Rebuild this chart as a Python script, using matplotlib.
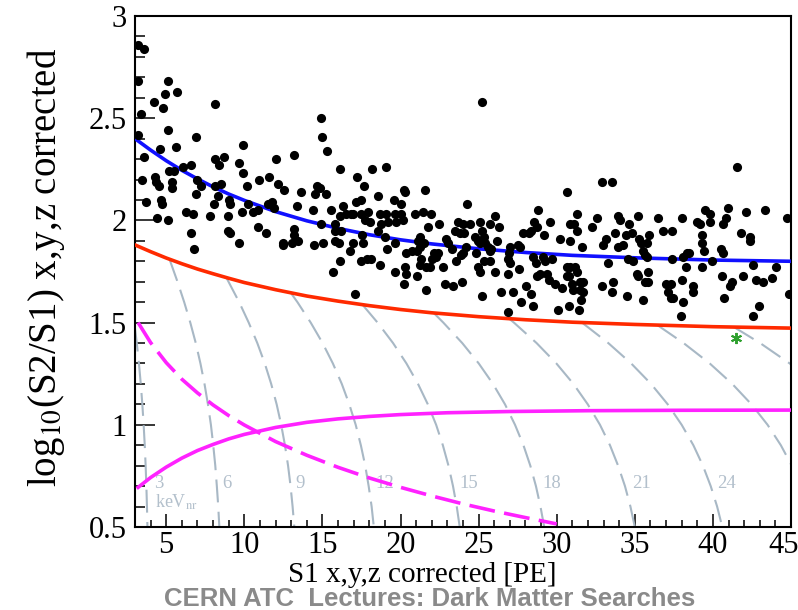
import matplotlib
matplotlib.use("Agg")
import matplotlib.pyplot as plt
from matplotlib.ticker import MultipleLocator, FuncFormatter
from matplotlib.transforms import ScaledTranslation

plt.rcParams['font.family'] = ['Liberation Serif', 'DejaVu Serif']
plt.rcParams['mathtext.fontset'] = 'stix'

# ---------------------------------------------------------------- events
event_s1 = [
    3.17, 3.55, 3.17, 5.10, 4.90, 5.70, 4.20, 4.80, 8.10, 25.20,
    3.36, 14.90, 3.22, 5.10, 6.90, 4.60, 5.60, 9.90, 15.00, 15.30,
    3.60, 8.10, 8.70, 12.00, 13.20,
    9.65, 8.41, 6.59, 9.92, 16.12, 3.45, 4.28, 4.37, 4.54, 5.20,
    5.48, 6.06, 6.95, 7.23, 5.39, 5.39, 6.91, 8.11, 8.51, 8.30,
    10.16, 10.93, 11.61, 12.17, 12.51, 13.60, 14.67, 14.84, 14.54, 15.24,
    3.71, 4.67, 4.71, 8.04, 9.03, 9.07, 10.22, 11.50, 11.78, 11.93,
    13.34, 14.39, 15.56, 16.31, 4.41, 5.09, 6.27, 6.70, 7.83, 8.98,
    9.86, 10.54, 10.86, 16.10, 16.53, 16.85,
    6.59, 6.76, 8.94, 9.11, 9.65, 10.86, 11.38, 12.47, 12.49, 13.21,
    13.21, 13.08, 13.43, 14.45, 15.03, 14.88, 15.78, 15.82, 16.20, 15.78,
    16.03, 16.12, 15.65, 17.10,
    16.95, 17.49, 17.91, 17.70, 18.02, 18.66, 18.77, 19.05, 19.20, 19.62,
    19.73, 20.05, 20.16, 20.91, 21.44, 21.97,
    18.56, 17.55, 17.59, 16.95, 16.78, 18.98, 19.62, 19.13, 17.49, 17.85,
    18.13, 18.66, 19.62, 20.27, 20.33, 20.22, 21.06, 20.37, 20.76, 21.06,
    21.23, 21.48, 21.27, 21.12, 21.33, 21.27, 21.65, 21.87, 21.61, 22.12,
    22.30, 22.40, 22.04, 21.76, 22.47, 22.72, 22.83, 23.36, 22.94, 23.04,
    23.32, 23.58, 23.68, 24.00, 24.47, 23.47, 23.79, 24.05, 24.00, 23.90,
    23.96, 24.22, 24.75, 24.97, 25.07, 24.86, 25.07, 25.24, 25.33, 24.97,
    25.07, 25.24, 25.39, 25.61, 25.71, 25.82, 25.33, 25.76, 26.03, 25.71,
    26.03, 26.31, 26.18, 26.46, 26.85, 26.99, 26.95, 26.89, 26.99, 26.89,
    27.17, 27.53, 27.64, 27.59, 27.74, 27.85, 28.02, 28.24, 28.38, 28.38,
    28.45, 28.56, 28.71, 28.49, 28.66, 28.71, 28.92, 29.13, 29.24, 29.67,
    29.35, 29.60, 29.18, 29.52, 29.88, 30.09, 30.20, 30.37,
    19.05, 18.19, 17.21, 17.64, 18.56, 20.20, 20.27, 21.57, 17.17, 17.49,
    19.56, 20.05, 24.26, 30.63, 28.81,
    32.87, 33.55, 41.57, 31.31, 32.59, 33.94, 35.22, 36.50, 38.00, 39.50,
    39.80, 40.95, 40.84, 42.12, 43.34, 44.77,
    34.05, 39.82, 38.96, 39.17, 40.67, 30.88, 31.10, 31.27, 32.23, 30.88,
    31.59, 32.94, 33.15, 33.73, 34.43, 34.79, 34.65, 33.94, 34.22, 35.29,
    35.37, 35.93, 35.76, 35.50, 35.65, 35.80, 36.82, 37.36, 33.28, 34.58,
    34.86, 37.36, 38.11, 38.32, 38.49, 38.28, 39.28, 39.28, 39.43, 39.92,
    39.28, 40.50, 40.63, 41.78, 42.38, 42.38, 42.55, 44.05, 30.63, 30.88,
    31.16, 31.27, 30.63, 30.80, 31.01, 31.48, 31.70, 31.06, 31.48, 31.70,
    31.53, 30.80, 31.44, 32.87, 33.62, 33.51, 34.47, 35.12, 35.22, 35.86,
    35.65, 35.86, 35.50, 36.99, 37.29, 37.14, 37.29, 37.42, 38.00, 38.06,
    37.94, 38.70, 38.70, 40.56, 41.10, 41.20, 40.71, 41.95, 42.76, 43.19,
    43.77, 42.98, 42.55, 44.90,
]
event_log_ratio = [
    2.86, 2.84, 2.68, 2.68, 2.62, 2.63, 2.58, 2.55, 2.57, 2.58,
    2.52, 2.50, 2.42, 2.44, 2.41, 2.35, 2.36, 2.37, 2.41, 2.34,
    2.31, 2.30, 2.31, 2.30, 2.32,
    2.28, 2.27, 2.27, 2.23, 2.25, 2.20, 2.21, 2.19, 2.17, 2.24,
    2.24, 2.26, 2.20, 2.17, 2.19, 2.16, 2.13, 2.17, 2.18, 2.12,
    2.17, 2.20, 2.21, 2.18, 2.15, 2.14, 2.17, 2.16, 2.13, 2.13,
    2.09, 2.10, 2.08, 2.08, 2.10, 2.08, 2.08, 2.08, 2.09, 2.06,
    2.07, 2.05, 2.05, 2.07, 2.01, 2.00, 2.04, 2.03, 2.02, 2.02,
    2.04, 2.04, 2.05, 2.02, 2.03, 2.03,
    1.94, 1.86, 1.95, 1.94, 1.89, 1.97, 1.94, 1.89, 1.88, 1.96,
    1.93, 1.89, 1.90, 1.88, 1.89, 1.98, 1.98, 1.95, 1.95, 1.90,
    1.89, 1.80, 1.75, 1.64,
    2.03, 2.03, 2.04, 2.00, 1.99, 2.03, 1.98, 2.03, 1.99, 2.03,
    1.99, 2.03, 2.00, 2.03, 2.04, 2.03,
    1.95, 1.93, 1.89, 1.89, 1.85, 1.92, 1.89, 1.86, 1.80, 1.81,
    1.81, 1.78, 1.75, 1.77, 1.74, 1.69, 1.73, 1.84, 1.85, 1.85,
    1.87, 1.89, 1.92, 1.90, 1.81, 1.78, 1.77, 1.77, 1.66, 1.84,
    1.82, 1.84, 1.81, 1.97, 1.98, 1.77, 1.69, 1.68, 1.91, 1.89,
    1.86, 1.80, 1.99, 1.98, 1.98, 1.95, 1.94, 1.94, 1.84, 1.83,
    1.70, 1.87, 1.92, 1.90, 1.89, 1.84, 1.99, 1.95, 1.92, 1.77,
    1.75, 1.63, 1.89, 1.87, 1.85, 1.86, 1.80, 1.80, 1.75, 1.98,
    2.02, 1.97, 1.90, 1.65, 1.55, 1.87, 1.84, 1.81, 1.79, 1.74,
    1.65, 1.88, 1.87, 1.76, 1.60, 1.94, 1.68, 1.94, 1.95, 1.64,
    1.58, 1.99, 1.97, 1.82, 1.79, 1.73, 1.74, 1.82, 1.80, 1.81,
    1.74, 1.99, 1.93, 1.71, 1.69, 1.56, 1.91, 1.67,
    2.26, 2.25, 2.21, 2.17, 2.12, 2.15, 2.14, 2.15, 2.09, 2.10,
    2.10, 2.08, 2.08, 2.14, 2.05,
    2.19, 2.19, 2.26, 2.03, 2.01, 2.02, 2.02, 2.01, 2.01, 2.05,
    2.03, 2.06, 2.01, 2.04, 2.05, 2.01,
    2.00, 1.99, 1.99, 1.98, 1.98, 1.98, 1.98, 1.95, 1.97, 1.90,
    1.87, 1.88, 1.91, 1.94, 1.93, 1.94, 1.98, 1.87, 1.88, 1.91,
    1.89, 1.93, 1.89, 1.85, 1.83, 1.82, 1.95, 1.95, 1.79, 1.81,
    1.80, 1.81, 1.82, 1.84, 1.84, 1.77, 1.93, 1.89, 1.85, 1.80,
    1.77, 1.86, 1.84, 1.94, 1.92, 1.90, 1.78, 1.77, 1.77, 1.77,
    1.77, 1.75, 1.73, 1.73, 1.69, 1.70, 1.70, 1.66, 1.66, 1.65,
    1.61, 1.58, 1.56, 1.68, 1.70, 1.65, 1.63, 1.74, 1.73, 1.75,
    1.70, 1.70, 1.61, 1.69, 1.69, 1.65, 1.62, 1.62, 1.71, 1.60,
    1.53, 1.68, 1.65, 1.73, 1.68, 1.70, 1.62, 1.73, 1.71, 1.70,
    1.72, 1.58, 1.53, 1.64,
]

# single candidate event
candidate_s1 = [41.5]
candidate_log_ratio = [1.425]

# ------------------------------------------------------- band centroids
band_s1 = [3, 4, 5, 6, 7, 8, 9, 10, 12, 14, 16, 18, 20, 22, 25, 28, 31, 35, 40, 45]
er_band_mean = [2.400, 2.344, 2.292, 2.245, 2.203, 2.164, 2.129, 2.098, 2.043, 1.998,
                1.961, 1.930, 1.905, 1.885, 1.861, 1.843, 1.829, 1.817, 1.806, 1.800]
nr_band_mean = [1.880, 1.847, 1.816, 1.788, 1.762, 1.739, 1.717, 1.696, 1.661, 1.630,
                1.605, 1.583, 1.564, 1.548, 1.529, 1.514, 1.502, 1.491, 1.480, 1.473]

# ------------------------------------------------------------ thresholds
s2_cut_s1 = [3.2, 4, 5, 6, 7, 8, 9, 10, 12, 14, 16, 18, 20, 23, 27, 32, 38, 45]
s2_cut_log_ratio = [0.694, 0.742, 0.793, 0.837, 0.874, 0.904, 0.931, 0.953, 0.987, 1.012,
                    1.029, 1.041, 1.050, 1.059, 1.065, 1.069, 1.071, 1.072]
s2_min_s1 = [3.2, 4, 5, 6, 7, 8, 9, 10, 12, 14, 16, 18, 20, 22, 24, 26, 28, 30]
s2_min_log_ratio = [1.500, 1.402, 1.304, 1.223, 1.156, 1.097, 1.045, 0.999, 0.918, 0.851,
                    0.792, 0.740, 0.694, 0.652, 0.613, 0.578, 0.546, 0.515]

# ------------------------------------------- constant-energy contours (keVnr)
contour_kev = [3, 6, 9, 12, 15, 18, 21, 24, 27, 30]
contour_s1 = [
    [3.0, 3.114, 3.252, 3.370, 3.470, 3.554, 3.624, 3.681, 3.728, 3.766, 3.796],
    [5.21, 5.72, 6.15, 6.54, 6.89, 7.19, 7.45, 7.67, 7.86, 8.01, 8.14, 8.24, 8.33, 8.40],
    [8.85, 9.67, 10.28, 10.83, 11.31, 11.72, 12.07, 12.36, 12.60, 12.80, 12.96, 13.09, 13.20],
    [12.98, 13.40, 14.25, 15.01, 15.67, 16.24, 16.72, 17.13, 17.46, 17.74, 17.96, 18.15, 18.29],
    [17.56, 18.53, 19.52, 20.38, 21.12, 21.75, 22.28, 22.71, 23.07, 23.36, 23.60, 23.79],
    [22.14, 22.74, 23.95, 25.01, 25.92, 26.69, 27.33, 27.87, 28.31, 28.67, 28.96, 29.20],
    [26.96, 27.26, 28.71, 29.98, 31.07, 31.99, 32.77, 33.41, 33.93, 34.37, 34.72, 35.00],
    [31.62, 33.30, 34.77, 36.04, 37.11, 38.00, 38.75, 39.36, 39.86, 40.27, 40.60],
    [36.46, 38.12, 39.80, 41.24, 42.47, 43.50, 44.35, 45.05, 45.63],
    [41.35, 43.02, 44.92, 46.55],
]
contour_log_ratio = [
    [1.47, 1.4, 1.3, 1.2, 1.1, 1.0, 0.9, 0.8, 0.7, 0.6, 0.5],
    [1.81, 1.7, 1.6, 1.5, 1.4, 1.3, 1.2, 1.1, 1.0, 0.9, 0.8, 0.7, 0.6, 0.5],
    [1.72, 1.6, 1.5, 1.4, 1.3, 1.2, 1.1, 1.0, 0.9, 0.8, 0.7, 0.6, 0.5],
    [1.645, 1.6, 1.5, 1.4, 1.3, 1.2, 1.1, 1.0, 0.9, 0.8, 0.7, 0.6, 0.5],
    [1.588, 1.5, 1.4, 1.3, 1.2, 1.1, 1.0, 0.9, 0.8, 0.7, 0.6, 0.5],
    [1.546, 1.5, 1.4, 1.3, 1.2, 1.1, 1.0, 0.9, 0.8, 0.7, 0.6, 0.5],
    [1.519, 1.5, 1.4, 1.3, 1.2, 1.1, 1.0, 0.9, 0.8, 0.7, 0.6, 0.5],
    [1.50, 1.4, 1.3, 1.2, 1.1, 1.0, 0.9, 0.8, 0.7, 0.6, 0.5],
    [1.487, 1.4, 1.3, 1.2, 1.1, 1.0, 0.9, 0.8, 0.7],
    [1.478, 1.4, 1.3, 1.2],
]
contour_label_s1 = [4.5, 8.9, 13.6, 19.0, 24.4, 29.7, 35.4, 40.9]
contour_label_text = ['3', '6', '9', '12', '15', '18', '21', '24']
contour_label_y = 0.715

# ---------------------------------------------------------------- figure
fig = plt.figure(figsize=(7.98, 6.10), dpi=100)
ax = fig.add_axes([135 / 798, 83 / 610, 656 / 798, 511 / 610])

grey = '#a8b8c5'
label_grey = '#b3c0cc'
for xs, ys in zip(contour_s1, contour_log_ratio):
    ax.plot(xs, ys, color=grey, lw=1.5, dashes=(11, 4.5), zorder=2)

for sx, txt in zip(contour_label_s1, contour_label_text):
    ax.text(sx, contour_label_y, txt, color=label_grey, fontsize=13.5,
            ha='center', va='center', zorder=2)
ax.text(4.3, 0.62, r'keV$_{\rm nr}$', color=label_grey, fontsize=13,
        ha='left', va='center', zorder=2)

ax.plot(band_s1, er_band_mean, color='#1010ff', lw=2.6, zorder=3)
ax.plot(band_s1, nr_band_mean, color='#ff2a00', lw=2.6, zorder=3)

ax.plot(s2_cut_s1, s2_cut_log_ratio, color='#ff22ff', lw=2.6, zorder=4)
ax.plot(s2_min_s1, s2_min_log_ratio, color='#ff22ff', lw=2.6,
        dashes=(7.2, 2.6), zorder=4)

ax.plot(event_s1, event_log_ratio, ls='none', marker='o', ms=6.6,
        mfc='black', mec='black', mew=0, zorder=5)
ax.plot(candidate_s1, candidate_log_ratio, ls='none', marker=(6, 2, 0),
        ms=8, mec='#2ea02e', mew=1.4, zorder=6)

ax.set_xlim(3, 45)
ax.set_ylim(0.5, 3)

ax.xaxis.set_major_locator(MultipleLocator(5))
ax.xaxis.set_minor_locator(MultipleLocator(1))
ax.yaxis.set_major_locator(MultipleLocator(0.5))
ax.yaxis.set_minor_locator(MultipleLocator(0.1))
ax.yaxis.set_major_formatter(FuncFormatter(lambda v, p: '%g' % v))
ax.xaxis.set_major_formatter(FuncFormatter(lambda v, p: '%g' % v))

ax.tick_params(axis='both', which='both', direction='in', top=False,
               right=False, width=1.1, color='black', labelsize=22)
ax.tick_params(axis='y', which='major', length=14.4, pad=6)
ax.tick_params(axis='y', which='minor', length=7.2)
ax.tick_params(axis='x', which='major', length=9.4, pad=3)
ax.tick_params(axis='x', which='minor', length=4.7)
for sp in ax.spines.values():
    sp.set_linewidth(1.5)

fig.text(46 / 798, 1 - 267 / 610, r'log$_{10}$(S2/S1) x,y,z corrected',
         rotation=90, ha='center', va='center', fontsize=28)
fig.text(422 / 798, 1 - 575 / 610, 'S1 x,y,z corrected [PE]',
         ha='center', va='center', fontsize=21)
fig.text(430 / 798, 1 - 599.5 / 610, 'CERN ATC  Lectures: Dark Matter Searches',
         ha='center', va='center', fontsize=18.5, fontweight='bold',
         color='#8a8a8a', family=['Liberation Sans', 'DejaVu Sans'])

# keep the last x tick label inside the canvas
fig.canvas.draw()
for lab in ax.get_xticklabels():
    if lab.get_text() == '45':
        lab.set_horizontalalignment('right')
        lab.set_transform(lab.get_transform()
                          + ScaledTranslation(6 / 72, 0, fig.dpi_scale_trans))

fig.savefig('out.png', dpi=100)
